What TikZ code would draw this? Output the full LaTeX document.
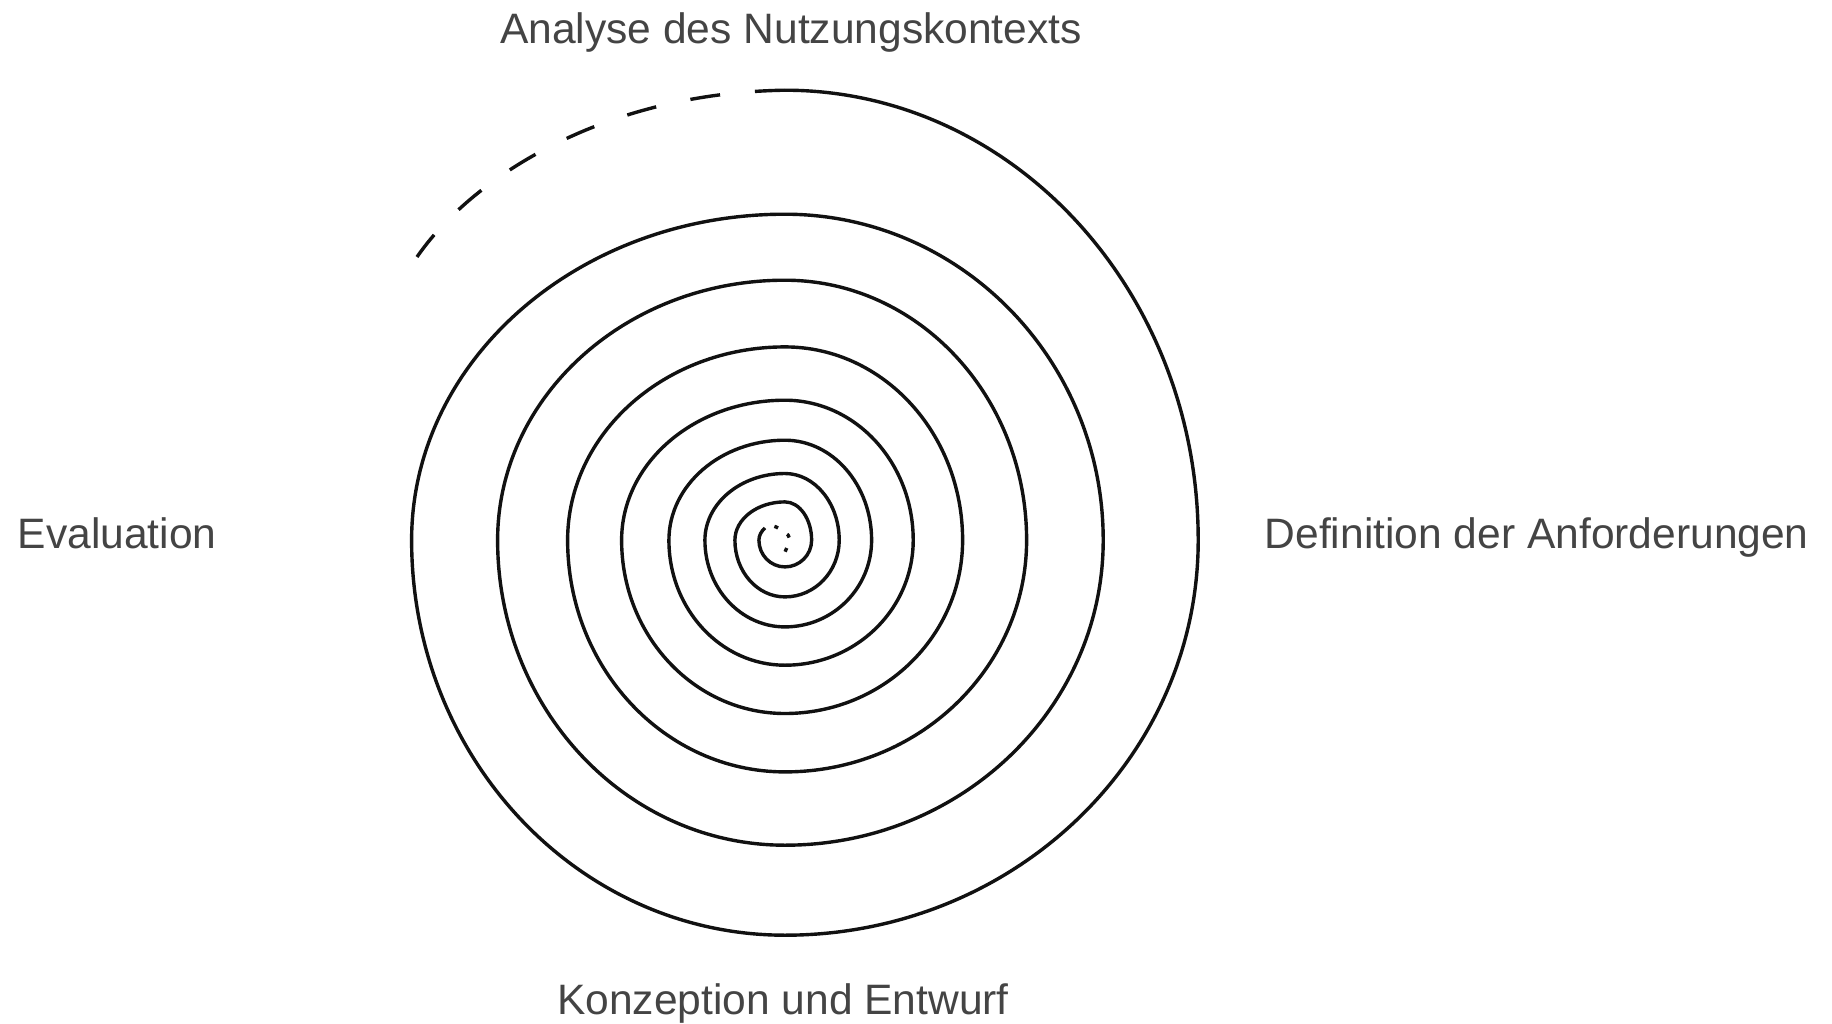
\documentclass[tikz,border=0pt]{standalone}
\usepackage{fontspec}
\setmainfont{Liberation Sans}
\definecolor{SpInk}{HTML}{111111}
\definecolor{SpText}{HTML}{444444}
\tikzset{
  phaselabel/.style={text=SpText,font=\fontsize{12.1}{14}\selectfont,inner sep=0pt},
  spiral/.style={draw=SpInk,line width=0.034cm},
  spiraltrail/.style={spiral,dash pattern=on 0.30cm off 0.35cm},
  spiralcore/.style={spiral,dash pattern=on 0.04cm off 0.11cm,dash phase=0.05cm},
}

\begin{document}
\begin{tikzpicture}[x=0.01cm,y=0.01cm]
    \path[fill=white] (0,0) rectangle (1832,1024);
    \useasboundingbox (0,0) rectangle (1832,1024);

    % the four phases round the spiral
    \node[phaselabel,anchor=base]      (analyse)    at (791,980) {Analyse des Nutzungskontexts};
    \node[phaselabel,anchor=base west] (definition) at (1264,475) {Definition der Anforderungen};
    \node[phaselabel,anchor=base]      (konzeption) at (783,9)   {Konzeption und Entwurf};
    \node[phaselabel,anchor=base west] (evaluation) at (17,475)  {Evaluation};

    % solid spiral: quarter arcs round (785,484), from the inside out
    \draw[spiral] (765,496) coordinate (inner)
      arc[start angle=140,end angle=180,x radius=26,y radius=19]
      \foreach \a/\rx/\ry in {180/26/26.7,    270/26.7/26.7,   0/26.7/38.3,   90/50/38.3,
                              180/50/56.7,    270/54.3/56.7,   0/54.3/66.7,   90/80/66.7,
                              180/80/86.7,    270/86.7/86.7,   0/86.7/100,    90/116/100,
                              180/116/125,    270/128.3/125,   0/128.3/140,   90/163.3/140,
                              180/163.3/173.3,270/177.7/173.3, 0/177.7/193.3, 90/217.3/193.3,
                              180/217.3/231.7,270/241.7/231.7, 0/241.7/260,   90/287.3/260,
                              180/287.3/305,  270/318.3/305,   0/318.3/326,   90/373.3/326,
                              180/373.3/395,  270/413.3/395,   0/413.3/450}{
        arc[start angle=\a,delta angle=90,x radius=\rx,y radius=\ry]
      } coordinate (outer);

    % dashed ends of the spiral
    \draw[spiraltrail] (outer) .. controls +(-185,-3) and +(53,77) .. (417,767);
    \draw[spiralcore] (inner) .. controls +(7,6) and +(-8,6) .. (788,489)
      .. controls +(4,-3) and +(2,5) .. (785,472);
\end{tikzpicture}
\end{document}
